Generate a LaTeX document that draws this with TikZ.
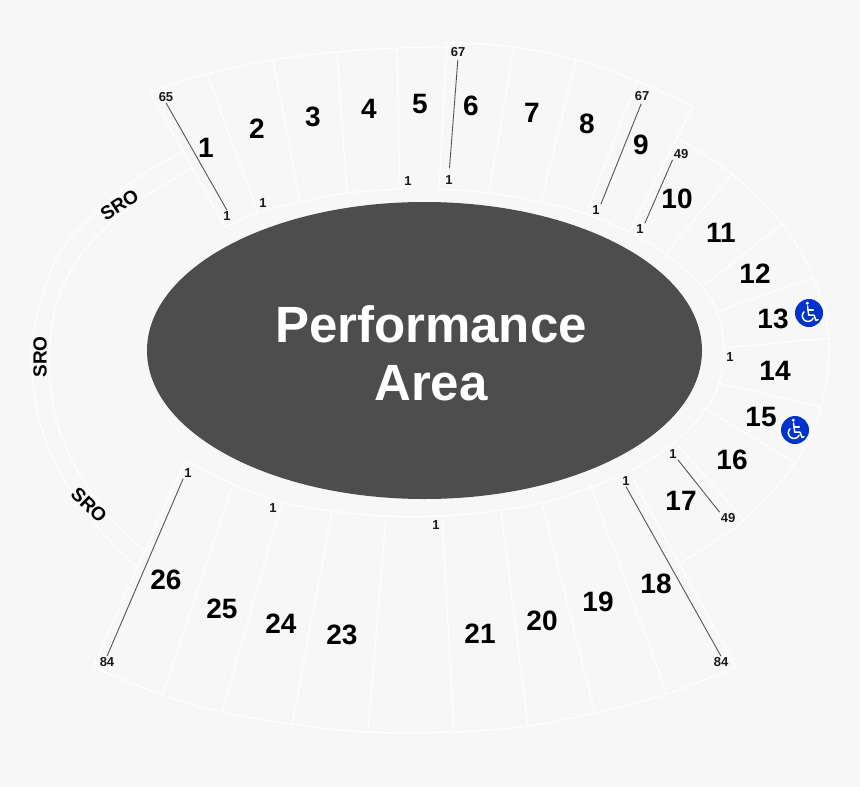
\documentclass[tikz,border=0pt]{standalone}
\usepackage{fontspec}
\usetikzlibrary{shapes.geometric}
\setmainfont{Liberation Sans}
\definecolor{bgc}{HTML}{F7F7F7}
\definecolor{stage}{HTML}{4D4D4D}
\definecolor{wheel}{HTML}{0033CC}
\definecolor{leadc}{HTML}{555555}
\tikzset{
  seam/.style={draw=white,line width=1pt,line join=round},
  sec/.style={font=\fontsize{28}{28}\bfseries\selectfont,inner sep=0pt,text=black},
  seat/.style={font=\fontsize{13}{13}\bfseries\selectfont,inner sep=1pt,text=black!90},
  sro/.style={font=\fontsize{19}{19}\bfseries\selectfont,inner sep=0pt,text=black},
  leader/.style={draw=leadc,line width=0.9pt},
  hall/.style={font=\fontsize{51}{51}\bfseries\selectfont,text=white,inner sep=0pt},
  badge/.style={circle,fill=wheel,minimum size=28pt,inner sep=0pt},
  chair/.style={draw=white,line width=1.5pt,line cap=round,line join=round}
}
\newcommand{\chairicon}[2]{%
  \begin{scope}[shift={(#1,#2)}]
    \fill[white] (-1.7,-9.8) circle (1.7);
    \draw[chair] (-1.5,-7) -- (-0.3,2.2) -- (5,2.2) -- (7,7.5) -- (9,6.6);
    \draw[chair] (-1,-2.8) -- (4.2,-2.8);
    \draw[chair] plot[domain=25:225,samples=24] ({-1+5.6*cos(\x)},{2.8+5.6*sin(\x)});
  \end{scope}}
\begin{document}
\begin{tikzpicture}[x=1pt,y=-1pt]
\path[fill=bgc] (0,0) rectangle (860,787);
\useasboundingbox (0,0) rectangle (860,787);
% stage
\node[ellipse,fill=stage,minimum width=555pt,minimum height=297pt,inner sep=0pt] (stage) at (424.5,350.5) {};
\node[hall] (perf) at (431,324) {Performance};
\node[hall] (area) at (431,383) {Area};
% inner arcs
\draw[seam] plot[smooth,tension=0.6] coordinates {(185,461)(233,484)(282,502)(332,511)(386,516)(442,516)(501,510)(542,503)(591,487)(629,472)(675,442)(706,409)(719,383)(724,348)(717,312)(702,287)(666,254)(629,232)(586,214)(541,202)(489,193)(439,189)};
\draw[seam] plot[smooth,tension=0.6] coordinates {(400,189)(347,193)(300,202)(258,213)(225,227)};
% outer arcs
\draw[seam] plot[smooth,tension=0.6] coordinates {(150,92)(207,74)(273,60)(337,52)(397,48)(447,47)};
\draw[seam] plot[smooth,tension=0.6] coordinates {(447,42)(514,47)(576,60)(637,81)(693,107)};
\draw[seam] plot[smooth,tension=0.6] coordinates {(677,138)(732,174)(782,224)(813,277)(829,338)(821,407)(795,463)(744,520)(680,563)};
\draw[seam] plot[smooth,tension=0.6] coordinates {(736,667)(667,694)(595,713)(528,726)(454,732)(368,732)(292,724)(222,712)(162,695)(93,667)};
% SRO arcs
\draw[seam] plot[smooth,tension=0.6] coordinates {(182,152)(137,178)(93,215)(60,253)(42,297)(33,337)(32,360)(33,383)(40,423)(57,467)(73,493)(100,530)(137,567)};
\draw[seam] plot[smooth,tension=0.6] coordinates {(192,168)(143,198)(100,233)(73,267)(57,303)(50,340)(49,360)(50,383)(57,423)(73,463)(87,485)(110,517)(143,550)};
% radial seams
\foreach \xa/\ya/\xb/\yb in {150/92/225/227,207/74/258/213,273/60/300/202,337/52/347/193,397/48/400/189,447/42/439/189,514/47/489/193,576/60/541/202,637/81/586/214,693/107/629/232,732/174/666/254,782/224/702/287,813/277/717/312,829/338/724/348,821/407/719/383,795/463/706/409,744/520/675/442,736/667/629/472,667/694/591/487,595/713/542/503,528/726/501/510,454/732/442/516,368/732/386/516,292/724/332/511,222/712/282/502,162/695/233/484,93/667/185/461}
  \draw[seam] (\xa,\ya) -- (\xb,\yb);
% section numbers
\foreach \n/\x/\y in {1/206/148,2/257/129,3/313/117,4/369/109,5/420/104,6/471/106,7/532/113,8/587/124,9/641/145,10/677/199,11/721/233,12/755/274,13/773/319,14/775/371,15/761/417,16/732/460,17/681/501,18/656/584,19/598/602,20/542/621,21/480/634,23/342/635,24/281/624,25/222/609,26/166/580}
  \node[sec] (sec\n) at (\x,\y) {\n};
% SRO labels
\node[sro,rotate=33] (sroa) at (119.5,205) {SRO};
\node[sro,rotate=90] (srob) at (40,357) {SRO};
\node[sro,rotate=-44] (sroc) at (89,505) {SRO};
% seat numbers
\node[seat] (a65) at (166,97) {65};
\node[seat] (a1) at (227,216) {1};
\node[seat] (b1) at (263,203) {1};
\node[seat] (c1) at (408,181) {1};
\node[seat] (d1) at (449,180) {1};
\node[seat] (d67) at (458,52) {67};
\node[seat] (e67) at (642,96) {67};
\node[seat] (e1) at (596,210) {1};
\node[seat] (f49) at (681,154) {49};
\node[seat] (f1) at (640,229) {1};
\node[seat] (g1) at (730,357) {1};
\node[seat] (h1) at (673,454) {1};
\node[seat] (h49) at (728,518) {49};
\node[seat] (i1) at (626,481) {1};
\node[seat] (i84) at (721,662) {84};
\node[seat] (j84) at (107,662) {84};
\node[seat] (j1) at (188,473) {1};
\node[seat] (k1) at (273,508) {1};
\node[seat] (l1) at (436,525) {1};
% leaders
\draw[leader] (a65.south) -- (a1.north);
\draw[leader,shorten <=2pt,shorten >=6pt] (d67.south) -- (d1.north);
\draw[leader,shorten <=2pt] (e67.south) -- (e1.north east);
\draw[leader] (f49.south west) -- (f1.north east);
\draw[leader] (h1.south east) -- (h49.north west);
\draw[leader] (i1.south) -- (i84.north);
\draw[leader] (j1.south west) -- (j84.north);
% wheelchair badges
\node[badge] (wa) at (809,313) {};
\node[badge] (wb) at (795,430) {};
\chairicon{809}{313}
\chairicon{795}{430}
\end{tikzpicture}
\end{document}
